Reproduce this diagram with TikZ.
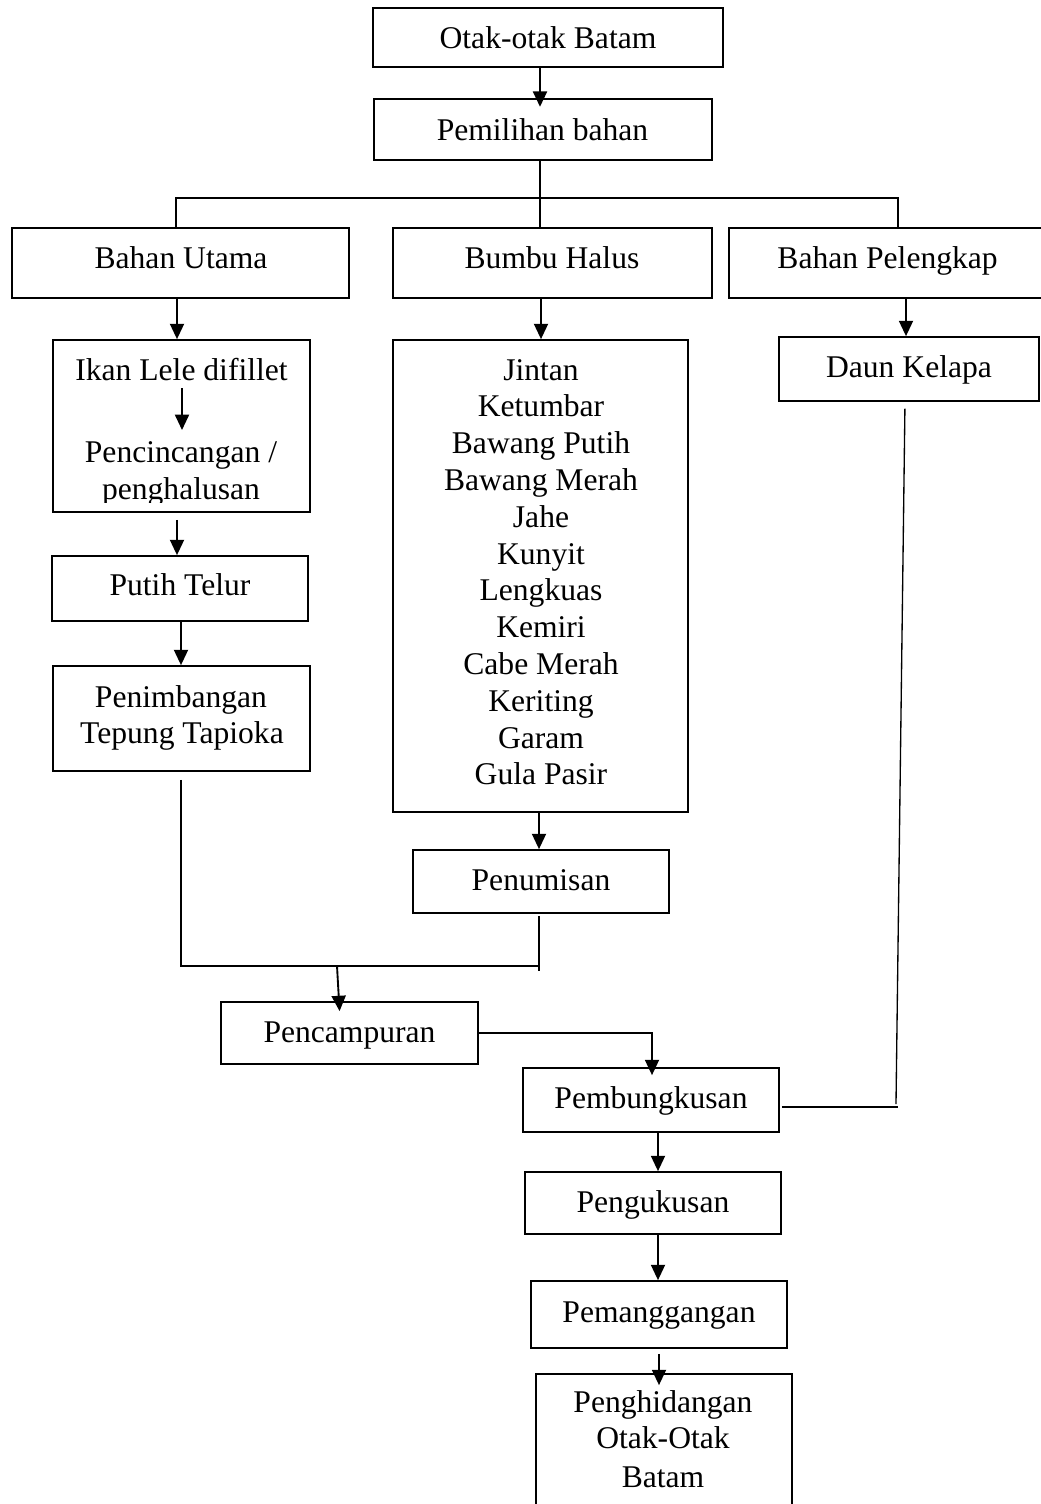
\documentclass[tikz,border=0pt]{standalone}
\usepackage{fontspec}
\setmainfont{Liberation Serif}
\usetikzlibrary{arrows.meta,fit,calc}
\begin{document}
\begin{tikzpicture}[x=0.75pt,y=-0.75pt,
  box/.style={draw, line width=1.3pt, inner sep=0pt},
  txt/.style={inner sep=0pt, anchor=base, font=\fontsize{23.7pt}{27.6pt}\selectfont},
  ln/.style={line width=1pt},
  arr/.style={line width=1.4pt, -{Triangle[width=10.5pt,length=11.5pt]}}]
\useasboundingbox (0,0) rectangle (1040,1504);
% boxes
\node[box, fit={(373,8) (723,67)}] (otak) {};
\node[box, fit={(374,99) (712,160)}] (pemilihan) {};
\node[box, fit={(12,228) (349,298)}] (utama) {};
\node[box, fit={(393,228) (712,298)}] (bumbu) {};
\node[box, fit={(729,228) (1046,298)}] (pel) {};
\node[box, fit={(53,340) (310,512)}] (ikan) {};
\node[box, fit={(52,556) (308,621)}] (putih) {};
\node[box, fit={(53,666) (310,771)}] (penimbangan) {};
\node[box, fit={(393,340) (688,812)}] (list) {};
\node[box, fit={(779,337) (1039,401)}] (daun) {};
\node[box, fit={(413,850) (669,913)}] (penumisan) {};
\node[box, fit={(221,1002) (478,1064)}] (pencampuran) {};
\node[box, fit={(523,1068) (779,1132)}] (pembungkusan) {};
\node[box, fit={(525,1172) (781,1234)}] (pengukusan) {};
\node[box, fit={(531,1281) (787,1348)}] (pemanggangan) {};
\node[box, fit={(536,1374) (792,1520)}] (penghidangan) {};
% texts
\node[txt] (t1) at (548,48) {Otak-otak Batam};
\node[txt] (t2) at (542.5,140) {Pemilihan bahan};
\node[txt] (t3) at (181,268) {Bahan Utama};
\node[txt] (t4) at (552,268) {Bumbu Halus};
\node[txt] (t5) at (887.6,268) {Bahan Pelengkap};
\node[txt] (t6) at (181.5,380) {Ikan Lele difillet};
\node[txt] (t7) at (181,462) {Pencincangan /};
\begin{scope}
\clip (53,340) rectangle (310,502);
\node[txt] (t8) at (181,499) {penghalusan};
\end{scope}
\node[txt] (t9) at (180,595) {Putih Telur};
\node[txt] (t10) at (181,707) {Penimbangan};
\node[txt] (t11) at (182,743) {Tepung Tapioka};
\foreach \w [count=\i from 0] in {Jintan,Ketumbar,Bawang Putih,Bawang Merah,Jahe,Kunyit,Lengkuas,Kemiri,Cabe Merah,Keriting,Garam,Gula Pasir}
  \node[txt] (b\i) at (541,380+36.8*\i) {\w};
\node[txt] (t12) at (909,377) {Daun Kelapa};
\node[txt] (t13) at (541,890) {Penumisan};
\node[txt] (t14) at (349.5,1042) {Pencampuran};
\node[txt] (t15) at (651,1108) {Pembungkusan};
\node[txt] (t16) at (653,1212) {Pengukusan};
\node[txt] (t17) at (659,1322) {Pemanggangan};
\node[txt] (t18) at (663,1412) {Penghidangan};
\node[txt] (t19) at (663,1448) {Otak-Otak};
\node[txt] (t20) at (663,1487) {Batam};
% helper coordinates
\coordinate (x176) at (176,0);
\coordinate (x177) at (177,0);
\coordinate (x181) at (181,0);
\coordinate (x339) at (339,0);
\coordinate (x539) at (539,0);
\coordinate (x540) at (540,0);
\coordinate (x541) at (541,0);
\coordinate (x652) at (652,0);
\coordinate (x658) at (658,0);
\coordinate (x659) at (659,0);
\coordinate (x898) at (898,0);
\coordinate (x905) at (905,0);
\coordinate (x906) at (906,0);
\coordinate (hs) at (540,198);
\coordinate (ia1) at (182,388);
\coordinate (ia2) at (182,430);
\coordinate (m1) at (539,966);
\coordinate (m2) at (539,971);
\coordinate (m3) at (337,966);
\coordinate (d2) at (896,1104);
\coordinate (j) at (898,1107);
% connectors
\draw[arr, shorten >=-6.5pt] (otak.south -| x540) -- (pemilihan.north -| x540);
\draw[ln] (pemilihan.south -| x540) -- (bumbu.north -| x540);
\draw[ln] (utama.north -| x176) |- (hs) -| (pel.north -| x898);
\draw[arr] (utama.south -| x177) -- (ikan.north -| x177);
\draw[arr] (bumbu.south -| x541) -- (list.north -| x541);
\draw[arr] (pel.south -| x906) -- (daun.north -| x906);
\draw[arr] (ia1) -- (ia2);
\draw[arr, shorten <=5.25pt] (ikan.south -| x177) -- (putih.north -| x177);
\draw[arr] (putih.south -| x181) -- (penimbangan.north -| x181);
\draw[arr] (list.south -| x539) -- (penumisan.north -| x539);
\draw[ln, shorten <=6pt] (penimbangan.south -| x181) |- (m1);
\draw[ln, shorten <=1.5pt] (penumisan.south -| x539) -- (m2);
\draw[arr, shorten >=-7.5pt] (m3) -- (pencampuran.north -| x339);
\draw[arr, shorten >=-6pt] (pencampuran.east) -| (pembungkusan.north -| x652);
\draw[ln, shorten <=5pt] (daun.south -| x905) -- (d2);
\draw[ln, shorten <=1.5pt] (pembungkusan.east |- j) -- (j);
\draw[arr] (pembungkusan.south -| x658) -- (pengukusan.north -| x658);
\draw[arr] (pengukusan.south -| x658) -- (pemanggangan.north -| x658);
\draw[arr, shorten <=3.75pt, shorten >=-9pt] (pemanggangan.south -| x659) -- (penghidangan.north -| x659);
\end{tikzpicture}
\end{document}
